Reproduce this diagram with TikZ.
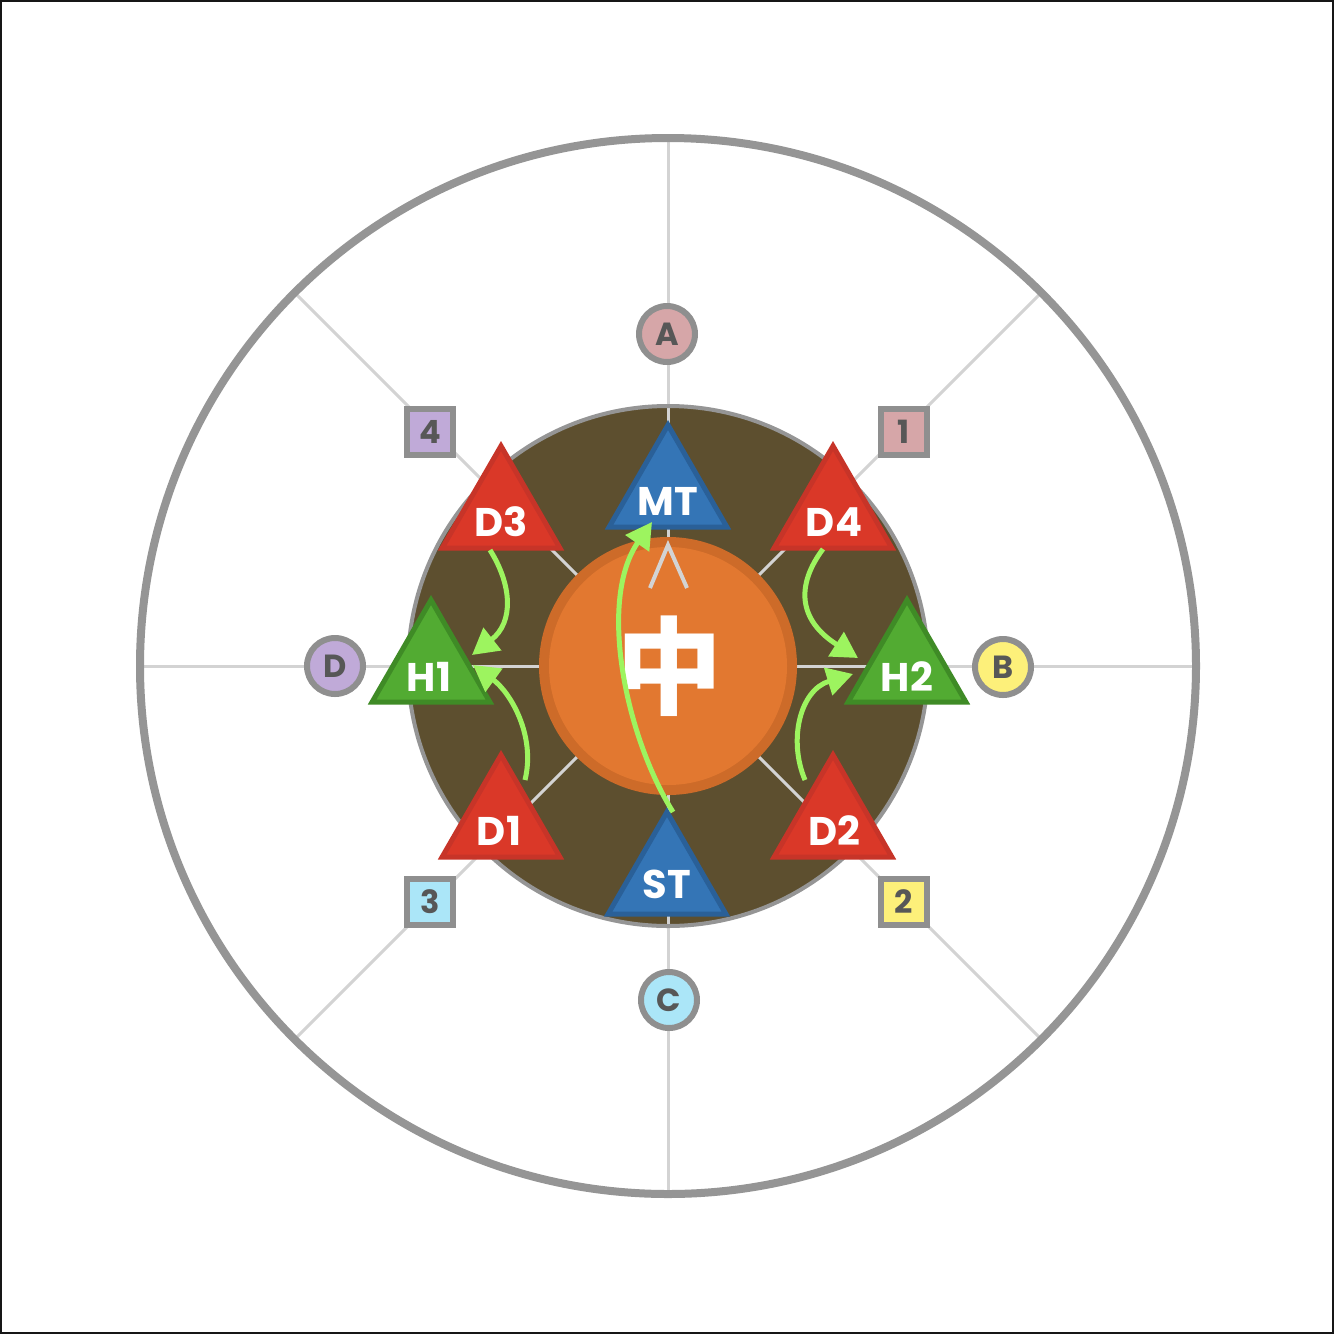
\documentclass[tikz,border=0pt]{standalone}
\usepackage{fontspec}
\setmainfont{Poppins}
\newfontfamily\cjk{Noto Sans CJK SC}
\usetikzlibrary{shapes.geometric,arrows.meta}
\definecolor{ringgray}{HTML}{959595}
\definecolor{radialgray}{HTML}{D3D3D3}
\definecolor{arenabrown}{HTML}{5D4F2F}
\definecolor{bossorange}{HTML}{E27830}
\definecolor{bossedge}{HTML}{CD6B29}
\definecolor{tankfill}{HTML}{3475B6}
\definecolor{tankline}{HTML}{2A6098}
\definecolor{dpsfill}{HTML}{DA3828}
\definecolor{dpsline}{HTML}{C73428}
\definecolor{healfill}{HTML}{52AB32}
\definecolor{healline}{HTML}{3F8B26}
\definecolor{movegreen}{HTML}{9DF45F}
\definecolor{markline}{HTML}{8F8F8F}
\definecolor{marktext}{HTML}{575757}
\definecolor{mpink}{HTML}{D6A6A8}
\definecolor{mlav}{HTML}{C0AAD8}
\definecolor{myellow}{HTML}{FDF07A}
\definecolor{mblue}{HTML}{ABE6F8}
\definecolor{framecol}{HTML}{161616}
\begin{document}
\begin{tikzpicture}[x=0.5pt,y=-0.5pt,
  tri/.style={regular polygon, regular polygon sides=3, minimum size=68pt, inner sep=0pt, outer sep=0pt, line width=2.5pt, draw},
  tank/.style={tri, fill=tankfill, draw=tankline},
  dps/.style={tri, fill=dpsfill, draw=dpsline},
  heal/.style={tri, fill=healfill, draw=healline},
  tlabel/.style={text=white, inner sep=0pt, font=\bfseries\fontsize{20}{20}\selectfont},
  wmark/.style={circle, minimum size=28pt, inner sep=0pt, line width=3pt, draw=markline, text=marktext, font=\bfseries\fontsize{16}{16}\selectfont},
  nmark/.style={rectangle, minimum size=23pt, inner sep=0pt, line width=3pt, draw=markline, text=marktext, font=\bfseries\fontsize{16}{16}\selectfont},
  radial/.style={draw=radialgray, line width=1.5pt},
  move/.style={draw=movegreen, line width=2.5pt, -{Triangle[length=13pt,width=14pt]}}
]
\useasboundingbox (0,0) rectangle (1334,1334);
\fill[white] (0,0) rectangle (1334,1334);
\draw[framecol, line width=1pt] (1,1) rectangle (1333,1333);
\coordinate (ctr) at (668,666);
% arena
\fill[arenabrown] (ctr) circle[radius=130pt];
\foreach \a in {0,45,...,315} \draw[radial] (ctr) -- ++(\a:526);
\draw[ringgray, line width=4pt] (ctr) circle[radius=264pt];
\draw[ringgray, line width=2pt] (ctr) circle[radius=130pt];
% boss
\fill[bossedge] (ctr) circle[radius=64.5pt];
\fill[bossorange] (ctr) circle[radius=59.5pt];
\draw[radialgray, line width=2pt] (650,588) -- (668,545) -- (687,588);
\node[text=white, inner sep=0pt, font=\cjk\bfseries\fontsize{53}{53}\selectfont] (zhong) at (669,666) {中};
% party
\node[tank] (mt) at (668,493) {};
\node[tank] (st) at (667,880) {};
\node[dps] (d3) at (501,514) {};
\node[dps] (d4) at (833,514) {};
\node[dps] (d1) at (501,823) {};
\node[dps] (d2) at (833,823) {};
\node[heal] (h1) at (431,668) {};
\node[heal] (h2) at (907,668) {};
\node[tlabel] (mtl) at (668,501) {MT};
\node[tlabel] (stl) at (667,884) {ST};
\node[tlabel] (d3l) at (501,522) {D3};
\node[tlabel] (d4l) at (834,522) {D4};
\node[tlabel] (d1l) at (499,831) {D1};
\node[tlabel] (d2l) at (834,831) {D2};
\node[tlabel] (h1l) at (429,677) {H1};
\node[tlabel] (h2l) at (907,677) {H2};
% movement arrows
\coordinate (d3s) at (490,550);  \coordinate (h1a) at (472,655);
\coordinate (d1s) at (525,780);  \coordinate (h1b) at (473,665);
\coordinate (d4s) at (823,549);  \coordinate (h2a) at (858,658);
\coordinate (d2s) at (805,780);  \coordinate (h2b) at (853,674);
\coordinate (sts) at (673,812);  \coordinate (mte) at (652,522);
\draw[move] (d3s) .. controls (512,585) and (514,622) .. (h1a);
\draw[move] (d1s) .. controls (536,735) and (510,692) .. (h1b);
\draw[move] (d4s) .. controls (796,585) and (798,620) .. (h2a);
\draw[move] (d2s) .. controls (788,740) and (800,690) .. (h2b);
\draw[move] (sts) .. controls (625,735) and (598,600) .. (mte);
% waymarks
\node[wmark, fill=mpink] (wa) at (667,334) {A};
\node[wmark, fill=myellow] (wb) at (1003,667) {B};
\node[wmark, fill=mblue] (wc) at (669,1000) {C};
\node[wmark, fill=mlav] (wd) at (335,666) {D};
\node[nmark, fill=mpink] (w1) at (904,432) {1};
\node[nmark, fill=myellow] (w2) at (904,902) {2};
\node[nmark, fill=mblue] (w3) at (430,902) {3};
\node[nmark, fill=mlav] (w4) at (430,432) {4};
\end{tikzpicture}
\end{document}
